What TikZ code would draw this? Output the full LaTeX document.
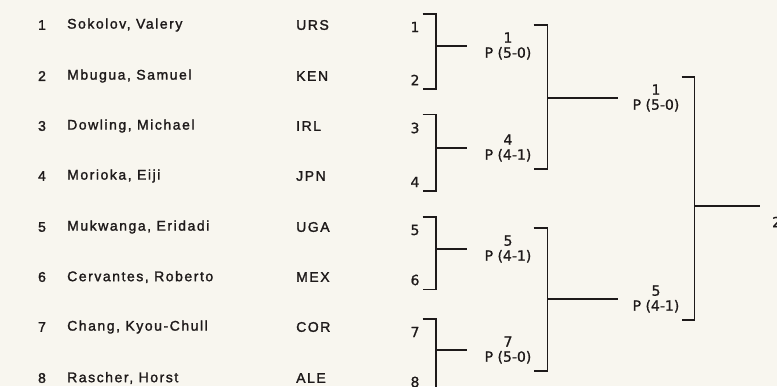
\documentclass[tikz,border=0pt]{standalone}
\usepackage{fontspec}
\setmainfont{Liberation Sans}
\newfontfamily\namefont[LetterSpace=11,FakeBold=1.6]{Liberation Sans}
\newfontfamily\drawfont[FakeBold=1]{DejaVu Sans}
\usetikzlibrary{calc}
\definecolor{paper}{HTML}{F8F6EF}
\definecolor{ink}{HTML}{1E1A1A}

\tikzset{
  player/.style={anchor=west, inner sep=0pt, text=ink, font=\namefont\fontsize{14}{15}\selectfont},
  seed/.style={inner xsep=3pt, inner ysep=3pt, text=ink, font=\drawfont\fontsize{14}{15}\selectfont},
  result/.style={align=center, inner xsep=2pt, inner ysep=7pt, text=ink, font=\drawfont\fontsize{14}{15}\selectfont},
  bracket/.style={draw=ink, line width=1.8pt},
}

\begin{document}
\begin{tikzpicture}[x=1pt,y=-1pt]
  % paper
  \useasboundingbox (0,0) rectangle (777,386);
  \clip (0,0) rectangle (777,386);
  \fill[paper] (0,0) rectangle (777,386);

  % Entry list
  \foreach \i/\who/\nat/\y in {1/{Sokolov, Valery}/URS/25, 2/{Mbugua, Samuel}/KEN/76,
      3/{Dowling, Michael}/IRL/126, 4/{Morioka, Eiji}/JPN/176, 5/{Mukwanga, Eridadi}/UGA/227,
      6/{Cervantes, Roberto}/MEX/277, 7/{Chang, Kyou-Chull}/COR/327, 8/{Rascher, Horst}/ALE/378}{
    \node[player, anchor=center] (num\i) at (42,\y) {\i};
    \node[player] (name\i) at (67,\y) {\who};
    \node[player] (nat\i) at (296,\y) {\nat};
  }

  % Draw numbers
  \foreach \i/\y in {1/27, 2/80, 3/128, 4/182, 5/230, 6/280, 7/332, 8/382}
    \node[seed] (s\i) at (415,\y) {\i};

  % First round winners
  \node[result] (r1a) at (508,46) {1\\P (5-0)};
  \node[result] (r1b) at (508,148) {4\\P (4-1)};
  \node[result] (r1c) at (508,249) {5\\P (4-1)};
  \node[result] (r1d) at (508,350) {7\\P (5-0)};

  % First round brackets
  \foreach \a/\b/\w in {1/2/r1a, 3/4/r1b, 5/6/r1c, 7/8/r1d}{
    \draw[bracket] ([yshift=5pt]s\a.north east) -- ++(13,0) coordinate (v\w) |- ([yshift=-1pt]s\b.south east);
    \draw[bracket] (v\w |- \w) -- ([xshift=-15pt]\w.west);
  }

  % Semi-final winners
  \node[result] (r2a) at (656,98) {1\\P (5-0)};
  \node[result] (r2b) at (656,299) {5\\P (4-1)};

  % Semi-final brackets
  \foreach \a/\b/\w in {r1a/r1b/r2a, r1c/r1d/r2b}{
    \draw[bracket] (\a.north east) -- ++(14,0) coordinate (v\w) |- (\b.south east);
    \draw[bracket] (v\w |- \w) -- ([xshift=-12pt]\w.west);
  }

  % Final
  \coordinate (fin) at (760,206);
  \draw[bracket] (r2a.north east) -- ++(13,0) coordinate (vfin) |- (r2b.south east);
  \draw[bracket] (vfin |- fin) -- (fin);
  \node[seed, anchor=west, inner sep=0pt] (r3) at (772,222) {2};
\end{tikzpicture}
\end{document}
